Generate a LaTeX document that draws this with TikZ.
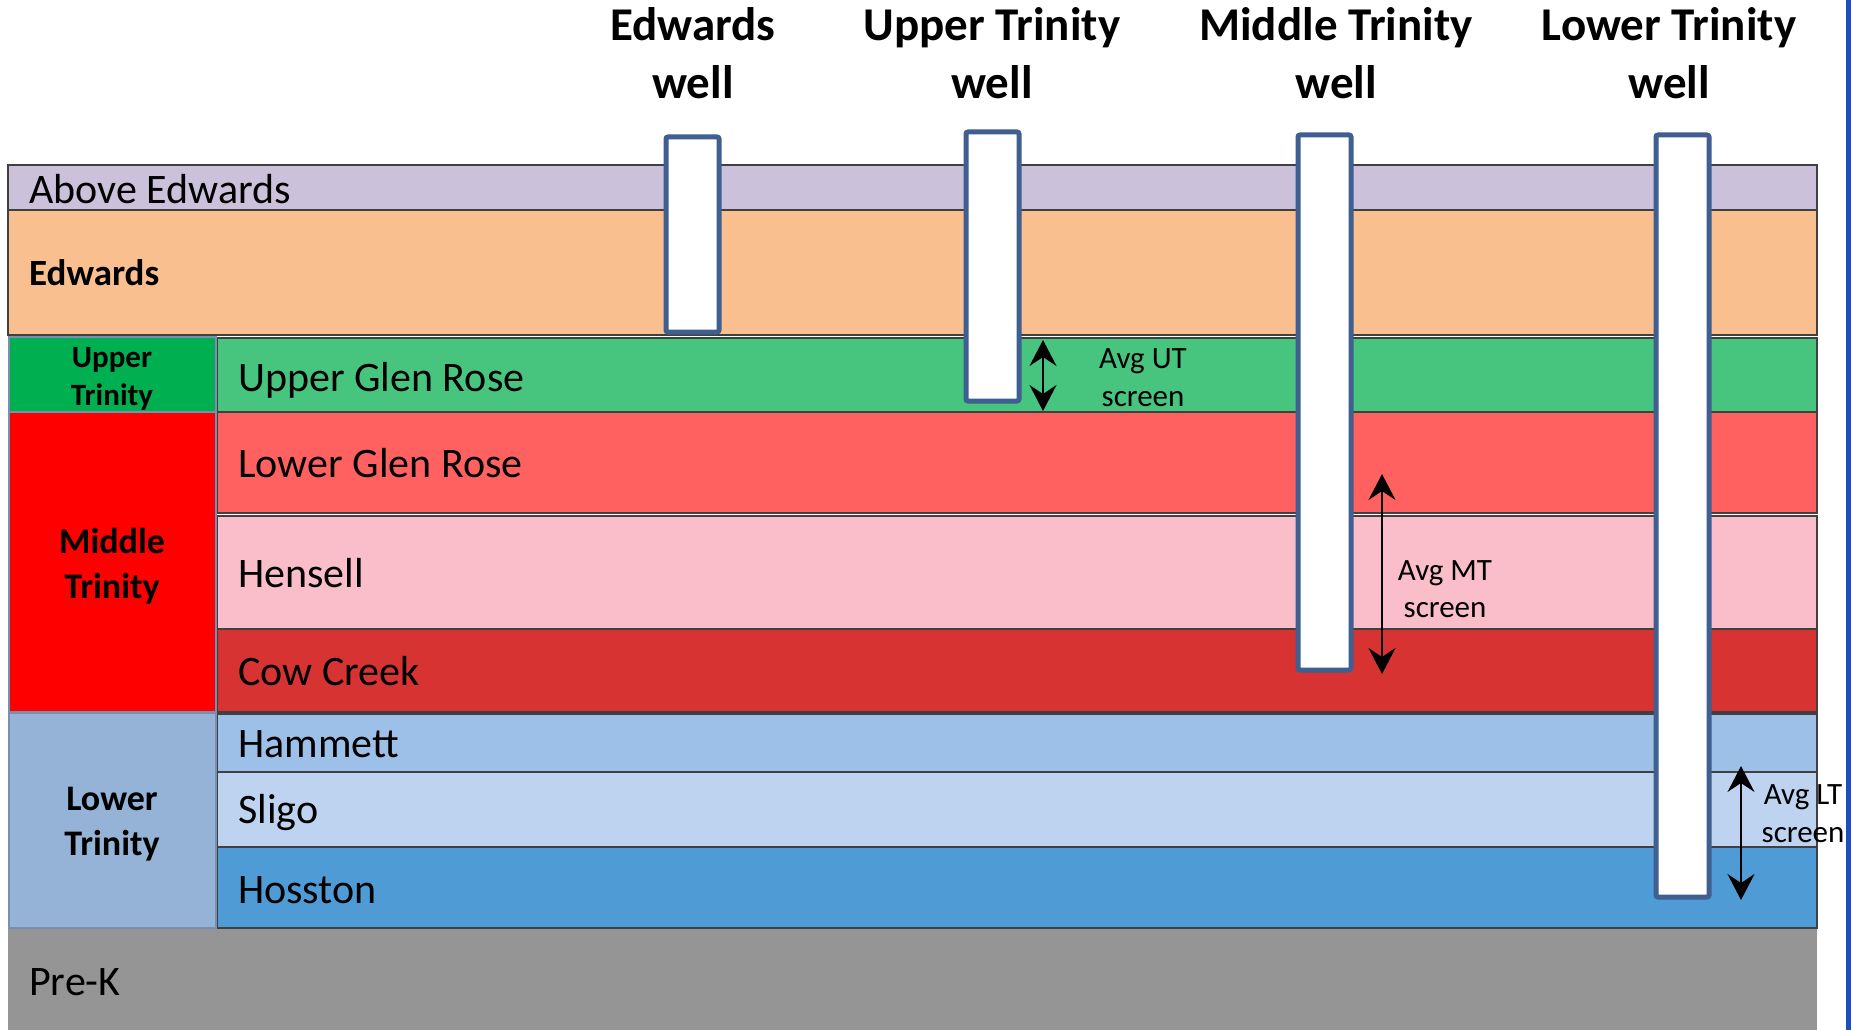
\documentclass[tikz,border=0pt]{standalone}
\usepackage{fontspec}
\setmainfont{Carlito}
\usetikzlibrary{arrows.meta}
\definecolor{cAbove}{HTML}{CCC1DA}
\definecolor{cEdw}{HTML}{F9BF8F}
\definecolor{cUT}{HTML}{00B050}
\definecolor{cUGR}{HTML}{47C57F}
\definecolor{cMT}{HTML}{FF0000}
\definecolor{cLGR}{HTML}{FF6161}
\definecolor{cHen}{HTML}{F9BECA}
\definecolor{cCow}{HTML}{D73333}
\definecolor{cLT}{HTML}{95B3D7}
\definecolor{cHam}{HTML}{9DC0E8}
\definecolor{cSli}{HTML}{BDD3F0}
\definecolor{cHos}{HTML}{4F9BD5}
\definecolor{cPreK}{HTML}{959595}
\definecolor{cWell}{HTML}{3E5F8F}
\definecolor{cEdge}{HTML}{1A4FC2}
\tikzset{
  layer/.style={draw=black!75, line width=1.2pt},
  grpbox/.style={draw=cWell!70, line width=1.2pt},
  wellbox/.style={draw=cWell, fill=white, line width=5pt, rounded corners=2pt},
  lbl/.style={anchor=base west, inner sep=0pt, font={\fontsize{42}{50}\selectfont}},
  lblb/.style={anchor=base west, inner sep=0pt, font={\bfseries\fontsize{37}{45}\selectfont}},
  grp/.style={anchor=base, inner sep=0pt, font={\bfseries\fontsize{36}{44}\selectfont}},
  grpsmall/.style={anchor=base, inner sep=0pt, font={\bfseries\fontsize{31}{38}\selectfont}},
  welllbl/.style={anchor=base, inner sep=0pt, font={\bfseries\fontsize{47}{57}\selectfont}},
  scrlbl/.style={anchor=base, inner sep=0pt, font={\fontsize{31}{38}\selectfont}},
  screenarrow/.style={line width=2pt, {Stealth[length=26pt,width=27pt,inset=9pt]}-{Stealth[length=26pt,width=27pt,inset=9pt]}}
}
\begin{document}
\begin{tikzpicture}[x=1pt,y=-1pt]
\useasboundingbox (0,0) rectangle (1852,1030);
\fill[white] (0,0) rectangle (1852,1030);
% layers
\draw[layer, fill=cAbove] (8,165) rectangle (1817,210);
\draw[layer, fill=cEdw] (8,210) rectangle (1817,335);
\draw[layer, fill=cUGR] (217,338) rectangle (1817,412);
\draw[layer, fill=cLGR] (217,412) rectangle (1817,513);
\draw[layer, fill=cHen] (217,516) rectangle (1817,629);
\draw[layer, fill=cCow] (217,629) rectangle (1817,712);
\draw[layer, fill=cHam] (217,714) rectangle (1817,772);
\draw[layer, fill=cSli] (217,772) rectangle (1817,847);
\draw[layer, fill=cHos] (217,847) rectangle (1817,928);
\fill[cPreK] (8,929) rectangle (1817,1030);
% group column
\draw[grpbox, fill=cUT] (9,337) rectangle (216,412);
\draw[grpbox, fill=cMT] (9,412) rectangle (216,712);
\draw[grpbox, fill=cLT] (9,713) rectangle (216,928);
% right edge line
\fill[cEdge] (1846,0) rectangle (1851,1030);
% wells
\draw[wellbox] (666,137) rectangle (719,332);
\draw[wellbox] (966,132) rectangle (1019,401);
\draw[wellbox] (1298,135) rectangle (1351,670);
\draw[wellbox] (1656,135) rectangle (1709,897);
% well labels
\node[welllbl] (wE1) at (693,41) {Edwards};
\node[welllbl] (wE2) at (693,99) {well};
\node[welllbl] (wU1) at (992,41) {Upper Trinity};
\node[welllbl] (wU2) at (992,99) {well};
\node[welllbl] (wM1) at (1336,41) {Middle Trinity};
\node[welllbl] (wM2) at (1336,99) {well};
\node[welllbl] (wL1) at (1669,41) {Lower Trinity};
\node[welllbl] (wL2) at (1669,99) {well};
% layer labels
\node[lbl] (tAbove) at (29,203) {Above Edwards};
\node[lblb] (tEdw) at (29,285) {Edwards};
\node[lbl] (tUGR) at (238,391) {Upper Glen Rose};
\node[lbl] (tLGR) at (238,477) {Lower Glen Rose};
\node[lbl] (tHen) at (238,587) {Hensell};
\node[lbl] (tCow) at (238,685) {Cow Creek};
\node[lbl] (tHam) at (238,757) {Hammett};
\node[lbl] (tSli) at (238,823) {Sligo};
\node[lbl] (tHos) at (238,903) {Hosston};
\node[lbl] (tPreK) at (29,995) {Pre-K};
% group labels
\node[grpsmall] (gU1) at (112,367) {Upper};
\node[grpsmall] (gU2) at (112,405) {Trinity};
\node[grp] (gM1) at (112,553) {Middle};
\node[grp] (gM2) at (112,598) {Trinity};
\node[grp] (gL1) at (112,810) {Lower};
\node[grp] (gL2) at (112,855) {Trinity};
% screen arrows
\coordinate (utA) at (1043,340);
\coordinate (utB) at (1043,411);
\coordinate (mtA) at (1382,474);
\coordinate (mtB) at (1382,674);
\coordinate (ltA) at (1741,766);
\coordinate (ltB) at (1741,900);
\draw[screenarrow] (utA) -- (utB);
\draw[screenarrow] (mtA) -- (mtB);
\draw[screenarrow] (ltA) -- (ltB);
\node[scrlbl] (sU1) at (1143,368) {Avg UT};
\node[scrlbl] (sU2) at (1143,406) {screen};
\node[scrlbl] (sM1) at (1445,580) {Avg MT};
\node[scrlbl] (sM2) at (1445,617) {screen};
\node[scrlbl] (sL1) at (1803,804) {Avg LT};
\node[scrlbl] (sL2) at (1803,842) {screen};
\end{tikzpicture}
\end{document}
